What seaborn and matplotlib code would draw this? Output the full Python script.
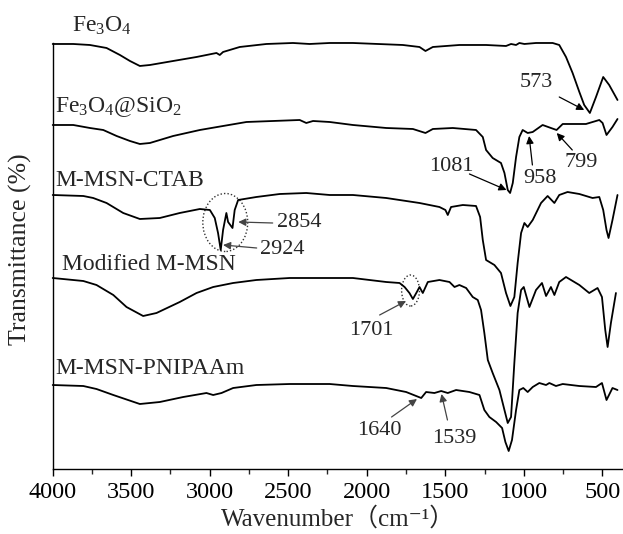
import numpy as np
import pandas as pd
import matplotlib
matplotlib.use("Agg")
import matplotlib.pyplot as plt
import seaborn as sns
from matplotlib.patches import Ellipse

# ---------------- data (wavenumber, offset transmittance in a.u.) ----------------
fe3o4_wn = [4000, 3869, 3763, 3657, 3572, 3508, 3445, 3381, 3233, 3084, 2957, 2936, 2915, 2809, 2639,
            2470, 2364, 2236, 2088, 1770, 1664, 1626, 1579, 1410, 1240, 1113, 1081, 1049, 1028, 996,
            922, 816, 774, 731, 689, 646, 615, 579, 540, 494, 456, 403]
fe3o4_t = [425, 425, 424, 421, 414, 408, 403, 404, 408, 412, 416, 414, 417, 422, 425,
           426, 425, 426, 426, 424, 422, 418, 422, 424, 424, 423, 425, 424, 426, 425,
           426, 426, 424, 412, 396, 377, 364, 356, 372, 392, 384, 369]

sio2_wn = [4000, 3869, 3763, 3678, 3593, 3508, 3445, 3381, 3233, 3063, 2915, 2766, 2597, 2427, 2385,
           2342, 2236, 2088, 1876, 1706, 1626, 1579, 1452, 1304, 1261, 1240, 1198, 1145, 1123, 1102,
           1087, 1070, 1049, 1028, 1007, 975, 943, 880, 827, 791, 752, 604, 519, 498, 473, 435, 403]
sio2_t = [344, 344, 341, 339, 333, 328, 325, 326, 333, 339, 343, 347, 348, 349, 346,
          348, 347, 344, 341, 340, 336, 340, 341, 339, 332, 319, 311, 306, 296, 279,
          276, 286, 312, 332, 339, 336, 337, 344, 341, 339, 345, 345, 349, 346, 334, 342, 350]

ctab_wn = [4000, 3805, 3742, 3657, 3551, 3445, 3318, 3191, 3063, 2999, 2968, 2947, 2930, 2915, 2894,
           2883, 2855, 2841, 2819, 2703, 2554, 2385, 2236, 2088, 1876, 1664, 1537, 1499, 1484, 1463,
           1388, 1304, 1278, 1261, 1240, 1187, 1145, 1113, 1085, 1060, 1039, 1017, 996, 975, 943,
           890, 848, 805, 774, 721, 646, 562, 519, 494, 473, 460, 435, 403]
ctab_t = [274, 273, 271, 266, 256, 250, 251, 256, 260, 259, 251, 236, 219, 239, 256,
          247, 241, 259, 269, 272, 275, 276, 274, 274, 271, 266, 262, 259, 254, 262,
          264, 263, 252, 229, 209, 204, 196, 176, 163, 172, 206, 236, 246, 242, 249,
          266, 273, 266, 274, 277, 275, 271, 272, 259, 239, 231, 249, 274]

mod_wn = [4000, 3805, 3721, 3614, 3530, 3424, 3339, 3191, 3084, 2978, 2851, 2703, 2491, 2236, 2088,
          1876, 1791, 1759, 1728, 1706, 1681, 1664, 1643, 1611, 1537, 1473, 1441, 1410, 1367, 1325,
          1293, 1272, 1251, 1229, 1198, 1155, 1123, 1102, 1081, 1060, 1039, 1017, 1000, 964, 922,
          884, 858, 827, 805, 774, 731, 646, 583, 530, 502, 481, 466, 445, 413]
mod_t = [191, 188, 184, 174, 162, 153, 156, 167, 176, 182, 186, 189, 191, 191, 191,
         187, 186, 182, 176, 170, 177, 182, 176, 187, 189, 187, 182, 184, 181, 172,
         169, 159, 136, 109, 96, 79, 59, 46, 52, 106, 156, 179, 182, 162, 179,
         186, 173, 182, 174, 187, 192, 184, 176, 181, 172, 139, 122, 146, 176]

pni_wn = [4000, 3805, 3721, 3614, 3445, 3318, 3169, 3021, 2978, 2925, 2851, 2703, 2491, 2236, 2088,
          1876, 1749, 1685, 1653, 1622, 1569, 1526, 1484, 1431, 1346, 1282, 1251, 1219, 1176, 1138,
          1117, 1096, 1075, 1049, 1028, 1003, 975, 943, 901, 858, 837, 795, 752, 646, 540,
          502, 473, 435, 403]
pni_t = [84, 83, 80, 74, 65, 67, 72, 76, 74, 76, 81, 84, 85, 85, 83,
         81, 77, 73, 71, 77, 76, 78, 76, 79, 77, 74, 59, 52, 47, 41,
         27, 18, 29, 59, 79, 81, 77, 82, 86, 84, 86, 83, 85, 83, 82,
         86, 69, 81, 79]

sample_names = ["Fe$_3$O$_4$", "Fe$_3$O$_4$@SiO$_2$", "M-MSN-CTAB", "Modified M-MSN", "M-MSN-PNIPAAm"]
x_ticks = [4000, 3500, 3000, 2500, 2000, 1500, 1000, 500]
peak_labels = ["573", "1081", "958", "799", "2854", "2924", "1701", "1640", "1539"]

# ---------------- style ----------------
sns.set_theme(style="white")
FAM = ["Liberation Serif", "Noto Sans CJK SC", "DejaVu Sans"]
plt.rcParams["font.family"] = FAM
plt.rcParams["mathtext.fontset"] = "custom"
plt.rcParams["mathtext.rm"] = "Liberation Serif"
plt.rcParams["mathtext.it"] = "Liberation Serif:italic"
plt.rcParams["mathtext.bf"] = "Liberation Serif:bold"

fig = plt.figure(figsize=(6.23, 5.34), dpi=100)
ax = fig.add_axes([0.0846, 0.1217, 0.9154, 0.7978])

series = [(fe3o4_wn, fe3o4_t), (sio2_wn, sio2_t), (ctab_wn, ctab_t), (mod_wn, mod_t), (pni_wn, pni_t)]
frames = []
for name, (w, t) in zip(sample_names, series):
    frames.append(pd.DataFrame({"wn": w, "T": t, "sample": name}))
df = pd.concat(frames, ignore_index=True)

for name in sample_names:
    sub = df[df["sample"] == name]
    sns.lineplot(data=sub, x="wn", y="T", ax=ax, color="black", lw=1.3,
                 sort=False, estimator=None, clip_on=False)

ax.set_xlim(4000, 368)
ax.set_ylim(0, 426)
ax.set_xticks(x_ticks)
ax.set_xticks(np.arange(3750, 368, -500), minor=True)
ax.set_yticks([])
for s in ["top", "right"]:
    ax.spines[s].set_visible(False)
for s in ["left", "bottom"]:
    ax.spines[s].set_color("black")
    ax.spines[s].set_linewidth(1.0)
ax.tick_params(axis="x", which="major", direction="out", length=5, width=1,
               labelsize=17.5, pad=4, colors="black", bottom=True)
ax.tick_params(axis="x", which="minor", direction="out", length=3.5, width=1, bottom=True)
ax.set_xlabel("Wavenumber（cm\u207b\u00b9）", fontsize=18, labelpad=3, family=FAM)
ax.set_ylabel("Transmittance (%)", fontsize=18.5)
ax.yaxis.set_label_coords(-0.036, 0.516)

# sample labels
label_pos = [(3877, 437), (3985, 357), (3985, 283), (3941, 199), (3985, 95)]
for name, (lx, ly) in zip(sample_names, label_pos):
    ax.text(lx, ly, name, fontsize=17, ha="left", va="baseline", clip_on=False)

# peak annotations: (text pos, arrow tail, arrow tip)
ann = [
    ((920, 386), (774, 372), (615, 359)),
    ((1460, 302), (1346, 295), (1110, 279)),
    ((894, 290), (945, 304), (966, 333)),
    ((634, 306), (691, 319), (790, 336)),
    ((2427, 246), (2599, 246), (2818, 247)),
    ((2541, 219), (2701, 221), (2915, 224)),
    ((1969, 139), (1918, 154), (1750, 168)),
    ((1918, 39), (1842, 52), (1680, 70)),
    ((1441, 31), (1486, 49), (1524, 75)),
]
for lab, (tp, tail, tip) in zip(peak_labels, ann):
    ax.text(tp[0], tp[1], lab, fontsize=16, ha="center", va="center")
    lc = "#444444" if lab in ("2854", "2924", "1701", "1640", "1539") else "black"
    ax.annotate("", xy=tip, xytext=tail,
                arrowprops=dict(arrowstyle="-|>", color=lc, lw=0.9,
                                mutation_scale=11, shrinkA=0, shrinkB=0))

ax.add_patch(Ellipse((2901, 246.5), 286, 58, fill=False, ls=(0, (1, 1.5)), lw=1.0, ec="#333333"))
ax.add_patch(Ellipse((1721, 178.5), 114, 31, fill=False, ls=(0, (1, 1.5)), lw=1.0, ec="#333333"))

fig.savefig("out.png", dpi=100)
